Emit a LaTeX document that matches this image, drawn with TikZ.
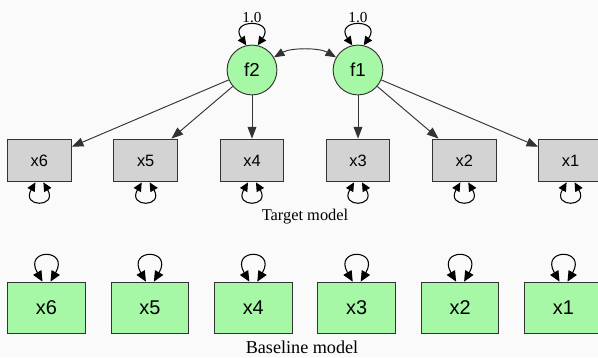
\documentclass[tikz,border=0pt]{standalone}
\usepackage{fontspec}
\setmainfont{Liberation Serif}
\setsansfont{Liberation Sans}
\usetikzlibrary{arrows.meta}

\definecolor{paper}{RGB}{250,250,250}
\definecolor{latgreen}{RGB}{166,247,166}
\definecolor{obsgray}{RGB}{211,211,211}
\definecolor{inkgray}{RGB}{51,51,51}

\tikzset{
  latent/.style={circle, draw=inkgray, fill=latgreen, line width=0.8pt,
    minimum size=42.5pt, inner sep=0pt, font=\sffamily\fontsize{16}{19}\selectfont},
  indicator/.style={rectangle, draw=inkgray, fill=obsgray, line width=0.8pt,
    minimum width=54.4pt, minimum height=36.6pt, inner sep=0pt,
    font=\sffamily\fontsize{14}{17}\selectfont},
  baseind/.style={indicator, fill=latgreen, minimum width=66.3pt,
    minimum height=44.2pt, font=\sffamily\fontsize{17}{20}\selectfont},
  loading/.style={draw=inkgray, line width=0.8pt, -{Triangle[length=10pt,width=7.5pt]}},
  covar/.style={draw=inkgray, line width=0.8pt,
    {Triangle[length=9pt,width=7pt]}-{Triangle[length=9pt,width=7pt]}},
  resvar/.style={draw=black, line width=0.9pt,
    {Triangle[length=7.5pt,width=7pt]}-{Triangle[length=7.5pt,width=7pt]}},
  caption/.style={font=\fontsize{14}{16}\selectfont}
}

\begin{document}
\begin{tikzpicture}[x=0.03cm, y=0.03cm]

  % Parameters (pixel grid of the reference, y runs down)
  \def\ytop{-160.5}   % row of the target model indicators
  \def\ybot{-308}     % row of the baseline model indicators

  % --- Canvas ---
  \fill[paper] (0,0) rectangle (598,-357);
  \clip (0,0) rectangle (598,-357);

  % --- Factors ---
  \node[latent] (f2) at (252,-70) {f2};
  \node[latent] (f1) at (358,-70) {f1};

  % --- Target model indicators ---
  \node[indicator] (tx6) at (39.4,\ytop)  {x6};
  \node[indicator] (tx5) at (145.7,\ytop) {x5};
  \node[indicator] (tx4) at (252,\ytop)   {x4};
  \node[indicator] (tx3) at (358,\ytop)   {x3};
  \node[indicator] (tx2) at (464.3,\ytop) {x2};
  \node[indicator] (tx1) at (570.6,\ytop) {x1};

  % --- Loadings ---
  \draw[loading] (f2) -- (tx6);
  \draw[loading] (f2) -- (tx5);
  \draw[loading] (f2) -- (tx4);
  \draw[loading] (f1) -- (tx3);
  \draw[loading] (f1) -- (tx2);
  \draw[loading] (f1) -- (tx1);

  % factor covariance
  \draw[covar] (f2) to[out=30, in=150, looseness=0.8] (f1);

  % factor variances (fixed)
  \draw[resvar] (f2.103) to[out=125, in=55, min distance=28pt]
    node[above, inner sep=1.5pt, font=\fontsize{13}{15}\selectfont] (vf2) {1.0} (f2.77);
  \draw[resvar] (f1.103) to[out=125, in=55, min distance=28pt]
    node[above, inner sep=1.5pt, font=\fontsize{13}{15}\selectfont] (vf1) {1.0} (f1.77);

  % residual variances
  \foreach \v in {tx6,tx5,tx4,tx3,tx2,tx1}
    \draw[resvar] ([xshift=-3.4pt]\v.south) to[out=-120, in=-60, min distance=25pt]
      ([xshift=3.4pt]\v.south);

  \node[caption] (tcap) at (305,-217) {Target model};

  % --- Baseline model ---
  \node[baseind] (bx6) at (46.5,\ybot)  {x6};
  \node[baseind] (bx5) at (149.9,\ybot) {x5};
  \node[baseind] (bx4) at (253.3,\ybot) {x4};
  \node[baseind] (bx3) at (356.7,\ybot) {x3};
  \node[baseind] (bx2) at (460.1,\ybot) {x2};
  \node[baseind] (bx1) at (563.5,\ybot) {x1};

  \foreach \v in {bx6,bx5,bx4,bx3,bx2,bx1}
    \draw[resvar, {Triangle[length=9pt,width=8pt]}-{Triangle[length=9pt,width=8pt]}]
      ([xshift=-3.4pt]\v.north) to[out=120, in=60, min distance=33pt]
      ([xshift=3.4pt]\v.north);

  \node[caption, font=\fontsize{15.5}{18}\selectfont] (bcap) at (302,-347) {Baseline model};
\end{tikzpicture}
\end{document}
